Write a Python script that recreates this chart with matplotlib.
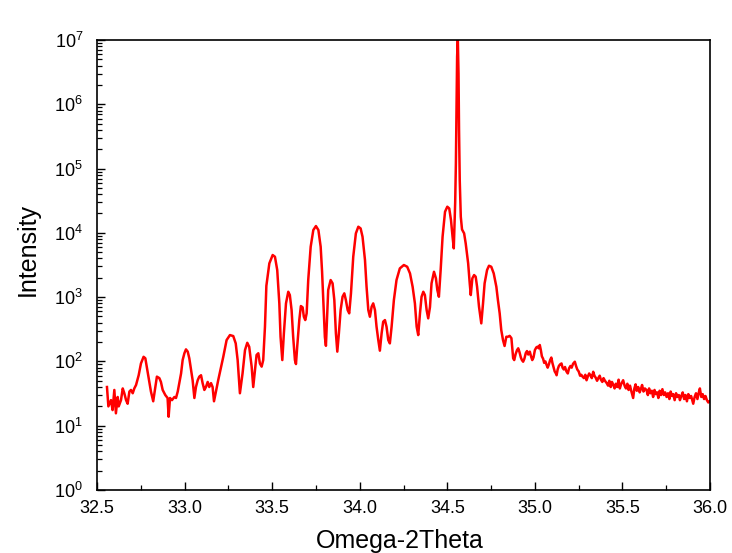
import matplotlib
matplotlib.use("Agg")
import matplotlib.pyplot as plt
from matplotlib.ticker import LogLocator, MultipleLocator, LogFormatterMathtext, NullFormatter, FixedLocator

plt.rcParams["font.family"] = ["Liberation Sans", "DejaVu Sans"]
plt.rcParams["mathtext.fontset"] = "custom"
plt.rcParams["mathtext.rm"] = "Liberation Sans"

# omega-2theta scan
two_theta = [
    32.557, 32.565, 32.580, 32.589, 32.599, 32.608, 32.618, 32.624, 32.637, 32.647,
    32.656, 32.666, 32.675, 32.685, 32.694, 32.704, 32.713, 32.723, 32.738, 32.751,
    32.766, 32.776, 32.789, 32.799, 32.808, 32.821, 32.833, 32.842, 32.856, 32.865,
    32.875, 32.890, 32.903, 32.909, 32.917, 32.928, 32.942, 32.951, 32.961, 32.970,
    32.980, 32.989, 32.999, 33.008, 33.018, 33.027, 33.037, 33.046, 33.056, 33.065,
    33.075, 33.084, 33.094, 33.103, 33.113, 33.122, 33.132, 33.141, 33.151, 33.160,
    33.168, 33.192, 33.221, 33.240, 33.259, 33.278, 33.292, 33.303, 33.316, 33.331,
    33.345, 33.358, 33.369, 33.383, 33.392, 33.402, 33.411, 33.421, 33.430, 33.440,
    33.449, 33.459, 33.467, 33.484, 33.503, 33.516, 33.529, 33.541, 33.548, 33.558,
    33.567, 33.579, 33.592, 33.601, 33.611, 33.620, 33.630, 33.636, 33.643, 33.655,
    33.664, 33.674, 33.681, 33.689, 33.697, 33.706, 33.720, 33.735, 33.750, 33.764,
    33.777, 33.785, 33.794, 33.801, 33.807, 33.813, 33.820, 33.834, 33.845, 33.855,
    33.864, 33.872, 33.881, 33.891, 33.902, 33.912, 33.921, 33.931, 33.940, 33.950,
    33.963, 33.978, 33.992, 34.005, 34.016, 34.030, 34.039, 34.049, 34.058, 34.068,
    34.077, 34.087, 34.096, 34.106, 34.115, 34.125, 34.134, 34.144, 34.153, 34.163,
    34.172, 34.182, 34.195, 34.210, 34.229, 34.252, 34.271, 34.287, 34.302, 34.315,
    34.325, 34.334, 34.344, 34.353, 34.363, 34.372, 34.382, 34.391, 34.401, 34.410,
    34.424, 34.435, 34.443, 34.452, 34.462, 34.473, 34.487, 34.500, 34.511, 34.521,
    34.530, 34.537, 34.545, 34.549, 34.552, 34.556, 34.560, 34.564, 34.567, 34.571,
    34.577, 34.584, 34.596, 34.605, 34.619, 34.628, 34.634, 34.643, 34.653, 34.662,
    34.670, 34.681, 34.694, 34.704, 34.713, 34.727, 34.738, 34.751, 34.765, 34.780,
    34.789, 34.799, 34.808, 34.818, 34.827, 34.837, 34.846, 34.856, 34.866, 34.872,
    34.876, 34.882, 34.890, 34.898, 34.905, 34.912, 34.920, 34.926, 34.933, 34.940,
    34.948, 34.955, 34.962, 34.971, 34.978, 34.985, 34.992, 35.000, 35.008, 35.016,
    35.022, 35.028, 35.034, 35.040, 35.047, 35.053, 35.060, 35.067, 35.073, 35.080,
    35.087, 35.094, 35.100, 35.107, 35.113, 35.120, 35.124, 35.130, 35.137, 35.144,
    35.152, 35.158, 35.165, 35.172, 35.180, 35.188, 35.195, 35.203, 35.210, 35.218,
    35.228, 35.235, 35.242, 35.250, 35.258, 35.265, 35.272, 35.280, 35.288, 35.295,
    35.302, 35.310, 35.318, 35.325, 35.333, 35.340, 35.347, 35.355, 35.362, 35.370,
    35.377, 35.385, 35.392, 35.400, 35.410, 35.418, 35.425, 35.433, 35.440, 35.448,
    35.455, 35.462, 35.470, 35.478, 35.485, 35.492, 35.504, 35.512, 35.520, 35.528,
    35.535, 35.543, 35.550, 35.561, 35.568, 35.575, 35.582, 35.590, 35.598, 35.605,
    35.612, 35.620, 35.628, 35.637, 35.645, 35.652, 35.660, 35.668, 35.675, 35.683,
    35.690, 35.698, 35.705, 35.712, 35.720, 35.728, 35.736, 35.744, 35.752, 35.760,
    35.768, 35.775, 35.783, 35.790, 35.798, 35.806, 35.814, 35.822, 35.828, 35.836,
    35.844, 35.852, 35.860, 35.868, 35.876, 35.884, 35.892, 35.904, 35.912, 35.920,
    35.928, 35.936, 35.942, 35.950, 35.958, 35.966, 35.974, 35.982, 35.990, 35.998,
]

intensity = [
    40, 20, 25, 17.5, 36, 15.6, 28, 20, 25, 38,
    32, 25, 22, 34, 36, 32, 38, 43, 61, 93,
    118, 112, 69, 48, 34, 24, 40, 58, 55, 48,
    36, 30, 27, 13.8, 27, 25, 28, 27, 34, 46,
    65, 105, 134, 154, 142, 112, 73, 51, 27, 40,
    51, 58, 61, 46, 36, 40, 48, 40, 46, 40,
    24, 51, 118, 215, 257, 248, 191, 105, 32, 65,
    150, 195, 169, 83, 40, 73, 126, 134, 93, 83,
    105, 347, 1500, 3350, 4520, 4250, 2640, 800, 242, 105,
    274, 800, 1213, 1078, 630, 242, 105, 91, 169, 440,
    727, 694, 496, 440, 560, 1845, 6080, 11060, 12760, 11060,
    6080, 2500, 700, 240, 175, 450, 1290, 1845, 1640, 900,
    274, 142, 274, 630, 1015, 1146, 900, 630, 560, 1146,
    4250, 9820, 12450, 11730, 8700, 3780, 1450, 630, 496, 710,
    800, 630, 347, 215, 147, 274, 415, 440, 347, 215,
    191, 347, 900, 1845, 2800, 3160, 2970, 2340, 1450, 800,
    347, 257, 560, 1015, 1213, 1078, 630, 468, 700, 1640,
    2480, 1960, 1290, 1015, 2640, 8700, 21300, 25500, 24000, 15800,
    8700, 5740, 30000, 120000, 721000, 5.5e6, 1.06e7, 3.0e6, 4.0e5, 66000,
    17800, 11300, 9820, 6860, 3360, 1640, 1078, 1960, 2206, 2080,
    1450, 710, 391, 800, 1640, 2640, 3080, 2970, 2340, 1450,
    900, 560, 308, 215, 174, 242, 242, 250, 230, 150,
    112, 105, 130, 150, 160, 140, 115, 105, 99, 110,
    135, 145, 128, 142, 120, 105, 115, 150, 165, 170,
    160, 180, 150, 120, 110, 95, 100, 88, 80, 90,
    105, 115, 95, 80, 70, 65, 61, 75, 85, 90,
    93, 80, 75, 82, 70, 65, 78, 85, 80, 92,
    99, 85, 75, 70, 60, 62, 58, 55, 62, 51,
    58, 65, 60, 55, 69, 60, 56, 50, 55, 60,
    52, 48, 55, 50, 46, 42, 50, 40, 48, 43,
    38, 45, 40, 52, 38, 44, 51, 42, 38, 45,
    36, 42, 35, 27, 38, 44, 35, 40, 33, 37,
    43, 34, 38, 36, 30, 38, 32, 35, 28, 36,
    31, 33, 27, 35, 30, 37, 30, 33, 28, 32,
    26, 34, 29, 31, 25, 32, 28, 30, 25, 29,
    33, 26, 30, 24, 31, 27, 29, 22, 28, 32,
    26, 33, 38, 28, 31, 26, 29, 25, 23, 24,
]

x_ticks = [32.5, 33.0, 33.5, 34.0, 34.5, 35.0, 35.5, 36.0]
y_ticks = [1e0, 1e1, 1e2, 1e3, 1e4, 1e5, 1e6, 1e7]

fig = plt.figure(figsize=(7.32, 5.53), dpi=100)
ax = fig.add_axes([0.1325, 0.1139, 0.8375, 0.8138])

ax.plot(two_theta, intensity, color="#ff0000", lw=1.8)

ax.set_yscale("log")
ax.set_xlim(32.5, 36.0)
ax.set_ylim(1, 1e7)

ax.set_xticks(x_ticks)
ax.set_xticklabels([f"{t:.1f}" for t in x_ticks])
ax.xaxis.set_minor_locator(MultipleLocator(0.25))
ax.yaxis.set_major_locator(FixedLocator(y_ticks))
ax.yaxis.set_major_formatter(LogFormatterMathtext())
ax.yaxis.set_minor_locator(LogLocator(base=10, subs=range(2, 10), numticks=20))
ax.yaxis.set_minor_formatter(NullFormatter())

ax.tick_params(which="major", direction="in", length=6, width=1.0,
               labelsize=13, top=False, right=False)
ax.tick_params(axis="x", which="major", pad=7)
ax.tick_params(axis="y", which="major", pad=10)
ax.tick_params(which="minor", direction="in", length=3.5, width=0.9,
               top=False, right=False)

for sp in ax.spines.values():
    sp.set_linewidth(1.2)

# axis titles placed where the reference has them
fig.text(400 / 732, 1 - 541 / 553, "Omega-2Theta", fontsize=18,
         ha="center", va="center")
fig.text(28 / 732, 1 - 249 / 553, "Intensity", fontsize=18,
         rotation=90, ha="center", va="center")

fig.savefig("out.png", dpi=100, facecolor="white")
